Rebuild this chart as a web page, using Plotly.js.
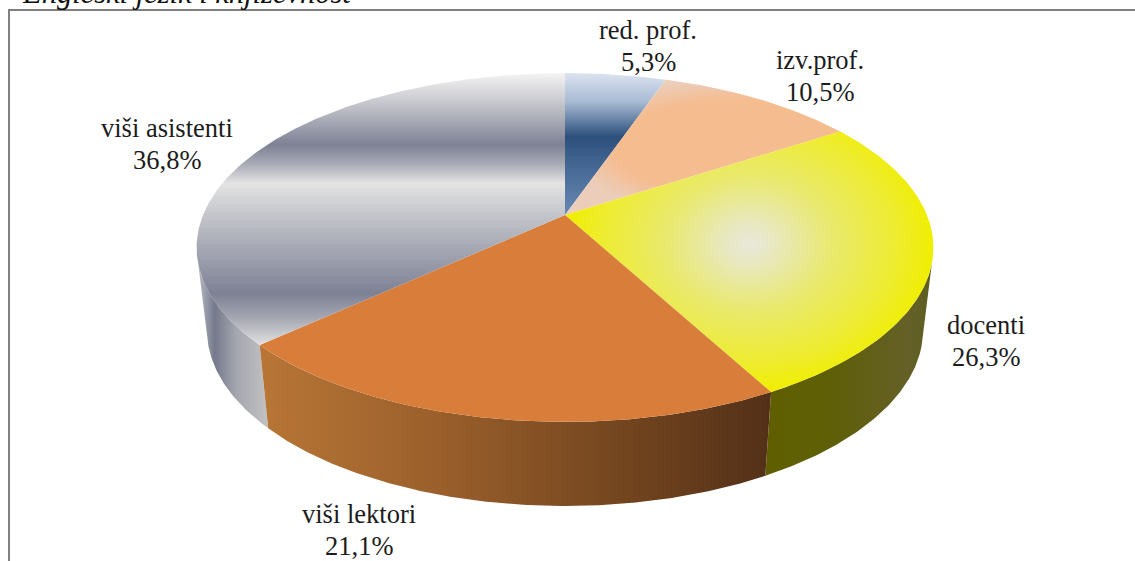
<!DOCTYPE html>
<html><head><meta charset="utf-8">
<script src="https://cdn.plot.ly/plotly-3.0.1.min.js"></script>
<style>html,body{margin:0;padding:0;background:#fff;overflow:hidden}#c{width:1135px;height:561px}</style>
</head><body><div id="c"></div>
<script>
const categories = ['red. prof.','izv.prof.','docenti','viši lektori','viši asistenti'];
const shares = [5.3,10.5,26.3,21.1,36.8];
const labelX = [648,820,986,359,167];
const labelY = [46,76,341,530,144];
const chartTitle = 'Engleski jezik i književnost';

const cx=565, cy=215, b=362, a=168.4, k=0.186;
const depthScale=0.972, depthScaleY=1.01, bottomY=297;
function topPt(deg){const t=deg*Math.PI/180,u=Math.sin(t),v=Math.cos(t),d=1+k*v;return [cx+b*u/d,cy-a*v/d];}
function botPt(deg){const p=topPt(deg);return [cx+depthScale*(p[0]-cx),bottomY+depthScaleY*(p[1]-cy)];}
function arc(fn,a0,a1){const n=Math.max(2,Math.ceil(Math.abs(a1-a0)*2)),o=[];for(let i=0;i<=n;i++)o.push(fn(a0+(a1-a0)*i/n));return o;}

const bounds=[0];shares.forEach(s=>bounds.push(bounds[bounds.length-1]+s*3.6));
bounds[5]=360;

const topFill=[
 {type:'vertical',start:73,stop:215,colorscale:[[0,'#dbe3f0'],[0.2,'#a9bbd3'],[0.45,'#2c4f7c'],[0.7,'#4a6c98'],[1,'#6688b2']]},
 {type:'radial',colorscale:[[0,'#f5bc90'],[0.7,'#f5bc90'],[1,'#ebcdb9']]},
 {type:'radial',colorscale:[[0,'#e8e8dc'],[0.12,'#e8e8c4'],[0.45,'#e9e96e'],[0.8,'#eeec30'],[1,'#f0ee00']]},
 {type:'vertical',start:0,stop:561,colorscale:[[0,'#d87e3a'],[1,'#d87e3a']]},
 {type:'vertical',start:73,stop:345,colorscale:[[0,'#f4f4f4'],[0.12,'#c2c3ca'],[0.265,'#7d8194'],[0.335,'#a8abb6'],[0.405,'#e3e3e3'],[0.6,'#b0b2bc'],[0.81,'#7d8194'],[0.9,'#a4a6b1'],[1,'#e2e2e2']]}
];
const sideFill={
 2:{type:'horizontal',start:766,stop:934,colorscale:[[0,'#5f5f00'],[0.4,'#5f5f08'],[0.85,'#646028'],[1,'#5e5e20']]},
 3:{type:'horizontal',start:260,stop:772,colorscale:[[0,'#b87636'],[0.35,'#9a5f2b'],[0.7,'#74461f'],[1,'#533018']]},
 4:{type:'horizontal',start:198,stop:268,colorscale:[[0,'#b8bac4'],[0.24,'#74798c'],[0.55,'#a5a7b0'],[1,'#c2c2c2']]}
};
const rimRight=106, rimLeft=254;
const sideSpan={2:[rimRight,bounds[3]],3:[bounds[3],bounds[4]],4:[bounds[4],rimLeft]};
const traces=[];
function poly(pts,fg){traces.push({type:'scatter',mode:'lines',x:pts.map(p=>p[0]),y:pts.map(p=>p[1]),fill:'toself',fillgradient:fg,line:{width:0,color:'rgba(0,0,0,0)'},hoverinfo:'skip',showlegend:false});}

[4,2,3].forEach(i=>{
  const s=sideSpan[i];
  const pts=arc(topPt,s[0],s[1]).concat(arc(botPt,s[1],s[0]));
  pts.push(pts[0]);
  poly(pts,sideFill[i]);
});
shares.forEach((s,i)=>{
  const pts=[[cx,cy]].concat(arc(topPt,bounds[i],bounds[i+1]));
  // zero-width spikes shift the bounding box so the radial gradient centres on the highlight
  if(i===1){const e=pts[pts.length-1];pts.push([900,e[1]]);pts.push(e);}
  if(i===2){pts.push([cx,cy]);pts.push([cx,95]);}
  pts.push([cx,cy]);
  poly(pts,topFill[i]);
});

const labelFont={family:'"Liberation Serif",serif',size:26.5,color:'#1c1c1c'};
const annotations=[];
categories.forEach((c,i)=>{
  [c,shares[i].toFixed(1).replace('.',',')+'%'].forEach((t,j)=>annotations.push({x:labelX[i],y:labelY[i]+(j?15.5:-16),xref:'x',yref:'y',text:t,showarrow:false,xanchor:'center',yanchor:'middle',font:labelFont}));
});
annotations.push({x:20,y:12,xref:'x',yref:'y',text:'<i>'+chartTitle+'</i>',showarrow:false,xanchor:'left',yanchor:'bottom',font:{family:'"Liberation Serif",serif',size:30.5,color:'#111'}});

const layout={width:1135,height:561,margin:{l:0,r:0,t:0,b:0},paper_bgcolor:'#fff',plot_bgcolor:'#fff',showlegend:false,
 xaxis:{range:[0,1135],visible:false,fixedrange:true},
 yaxis:{range:[561,0],visible:false,fixedrange:true},
 annotations,
 shapes:[
  {type:'line',xref:'x',yref:'y',x0:8,x1:1135,y0:10,y1:10,line:{color:'#808080',width:2}},
  {type:'line',xref:'x',yref:'y',x0:9,x1:9,y0:10,y1:561,line:{color:'#808080',width:2}}
 ]};
Plotly.newPlot('c',traces,layout,{displayModeBar:false,staticPlot:true});
</script></body></html>
